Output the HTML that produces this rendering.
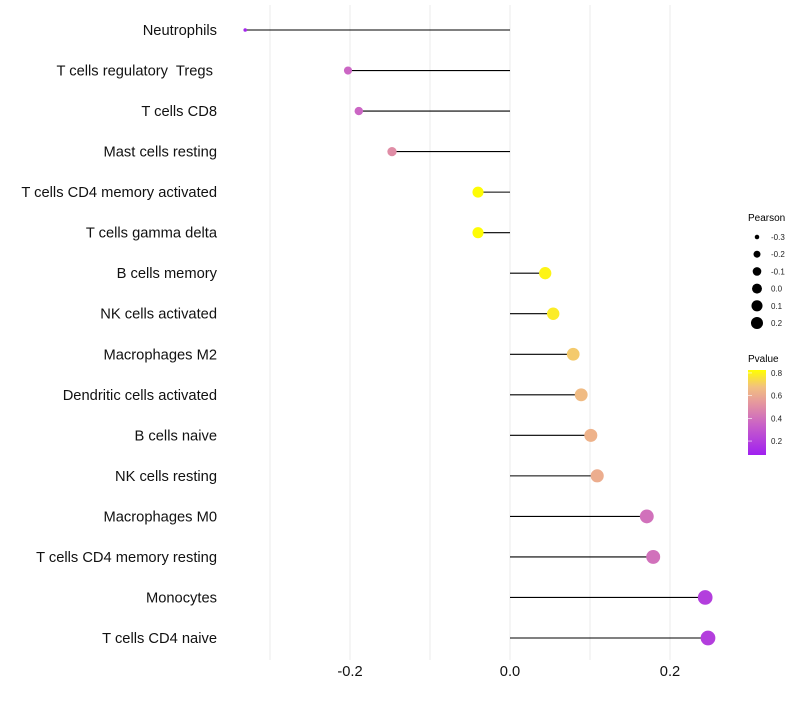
<!DOCTYPE html>
<html><head><meta charset="utf-8"><style>
body{margin:0;background:#fff;font-family:"Liberation Sans",sans-serif}
text{white-space:pre}
</style></head><body>
<svg id="chart" width="800" height="700" xmlns="http://www.w3.org/2000/svg" font-family="Liberation Sans, sans-serif">
<g id="grid"></g>
<g id="ylabels"></g>
<g id="marks"></g>
<g id="xticks"></g>
<g id="legend">
<text x="748" y="221" font-size="10" fill="#000">Pearson</text>
<g id="sizeleg"></g>
<text x="748" y="362" font-size="10" fill="#000">Pvalue</text>
<defs><linearGradient id="pg" x1="0" y1="1" x2="0" y2="0">
<stop offset="0" stop-color="#A020F0"/><stop offset="0.35" stop-color="#C860C8"/><stop offset="0.6" stop-color="#E494A0"/><stop offset="0.8" stop-color="#F2C080"/><stop offset="1" stop-color="#FFFF00"/></linearGradient></defs>
<rect x="748" y="370" width="18" height="85" fill="url(#pg)"/>
<g id="colleg"></g>
</g>
</svg>
<script>
const categories=["Neutrophils","T cells regulatory  Tregs ","T cells CD8","Mast cells resting","T cells CD4 memory activated","T cells gamma delta","B cells memory","NK cells activated","Macrophages M2","Dendritic cells activated","B cells naive","NK cells resting","Macrophages M0","T cells CD4 memory resting","Monocytes","T cells CD4 naive"];
const pearson=[-0.331,-0.2025,-0.189,-0.1475,-0.04,-0.04,0.044,0.054,0.079,0.089,0.101,0.109,0.171,0.179,0.244,0.2475];
const pvalue=[0.1,0.36,0.36,0.5,0.82,0.82,0.8,0.78,0.7,0.66,0.63,0.61,0.4,0.4,0.2,0.2];
const xTicks=[-0.2,0.0,0.2];
const xGrid=[-0.3,-0.2,-0.1,0.0,0.1,0.2];
const sizeLegend=[-0.3,-0.2,-0.1,0.0,0.1,0.2];
const pLegend=[0.2,0.4,0.6,0.8];
const NS="http://www.w3.org/2000/svg";
const X=v=>510+v*800;
const Y=i=>30+i*(608/15);
const R=v=>1+8.3*Math.sqrt(Math.max(0,v+0.34));
const PY=p=>455-(p-0.077)/(0.826-0.077)*85;
const stops=[[0,[160,32,240]],[0.35,[200,96,200]],[0.6,[228,148,160]],[0.8,[242,192,128]],[1,[255,255,0]]];
function col(p){let t=(p-0.077)/(0.826-0.077);t=Math.max(0,Math.min(1,t));
for(let k=1;k<stops.length;k++){if(t<=stops[k][0]){const a=stops[k-1],b=stops[k];const f=(t-a[0])/(b[0]-a[0]);const c=a[1].map((x,j)=>Math.round(x+(b[1][j]-x)*f));return `rgb(${c})`;}}return "rgb(255,255,0)";}
function mk(tag,attrs,parent){const e=document.createElementNS(NS,tag);for(const k in attrs)e.setAttribute(k,attrs[k]);parent.appendChild(e);return e;}
const grid=document.getElementById('grid');
xGrid.forEach(v=>{const l=mk('line',{x1:X(v),x2:X(v),y1:5,y2:660,stroke:'#ebebeb','stroke-width':1},grid);

});
const yl=document.getElementById('ylabels'),marks=document.getElementById('marks');
categories.forEach((c,i)=>{
const t=mk('text',{x:217,y:Y(i)+5,'text-anchor':'end','font-size':14.7,fill:'#111'},yl);t.textContent=c;


const l=mk('line',{x1:X(0),x2:X(pearson[i]),y1:Y(i),y2:Y(i),stroke:'#000','stroke-width':1.1},marks);


const d=mk('circle',{cx:X(pearson[i]),cy:Y(i),r:R(pearson[i]),fill:col(pvalue[i])},marks);


});
const xt=document.getElementById('xticks');
xTicks.forEach(v=>{const t=mk('text',{x:X(v),y:676,'text-anchor':'middle','font-size':14.7,fill:'#111'},xt);t.textContent=v.toFixed(1);

});
const sl=document.getElementById('sizeleg');
sizeLegend.forEach((v,i)=>{const y=237+i*17.2;
const c=mk('circle',{cx:757,cy:y,r:R(v)*0.85,fill:'#000'},sl);


const t=mk('text',{x:771,y:y+3,'font-size':8,fill:'#222'},sl);t.textContent=v.toFixed(1);

});
const cl=document.getElementById('colleg');
pLegend.forEach(p=>{const y=PY(p);
const l=mk('line',{x1:748,x2:752,y1:y,y2:y,stroke:'#fff','stroke-width':0.6},cl);


const t=mk('text',{x:771,y:y+3,'font-size':8,fill:'#222'},cl);t.textContent=p.toFixed(1);

});
</script>
</body></html>
